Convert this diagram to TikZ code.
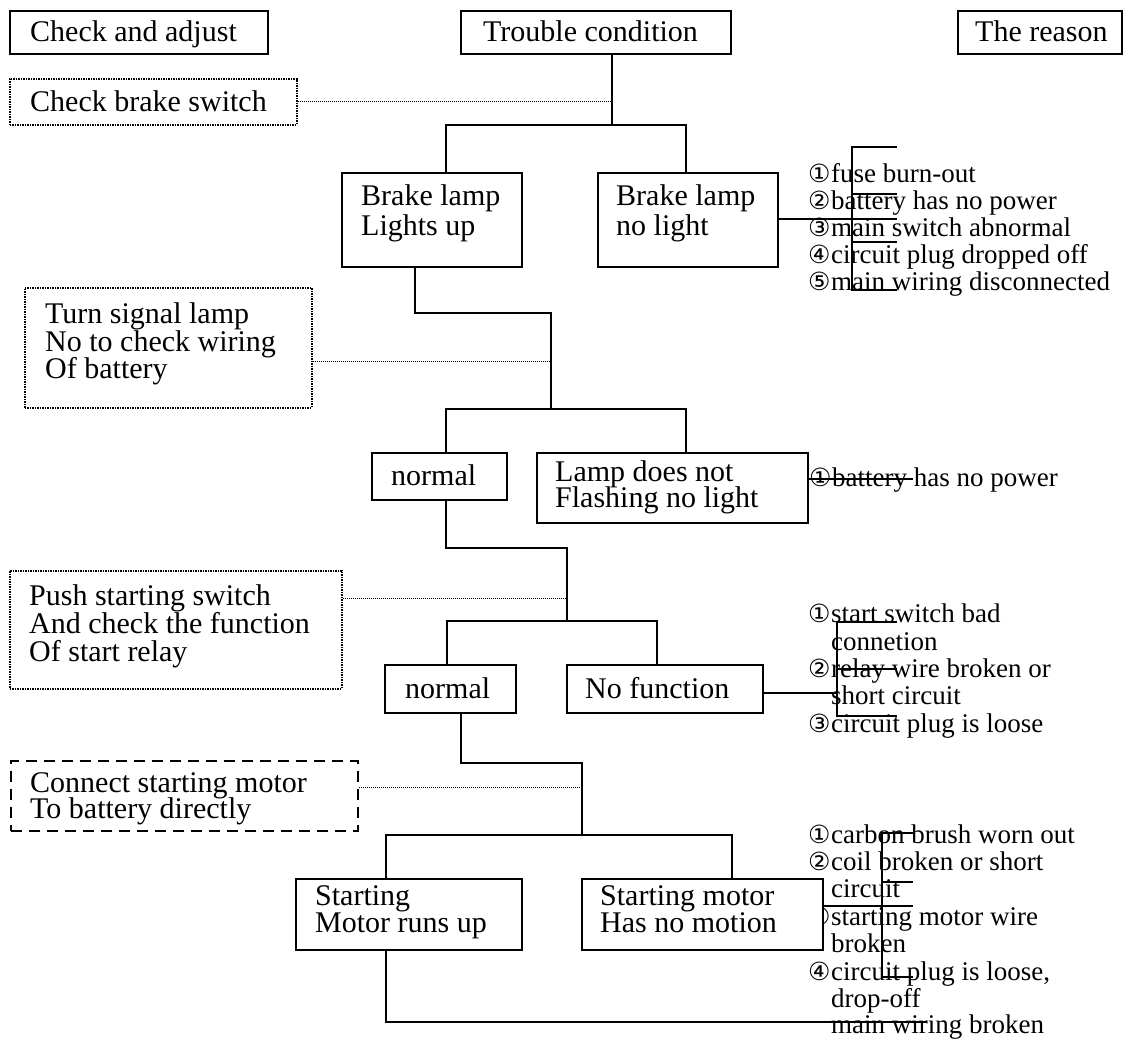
\documentclass[tikz,border=0pt]{standalone}
\usepackage{fontspec}
\setmainfont{Liberation Serif}
\newfontfamily\circfont{DejaVu Sans}
% circled item number with a fixed advance
\newcommand\cnum[1]{\makebox[23pt][l]{\circfont\fontsize{25}{25}\selectfont #1}}
\begin{document}
\begin{tikzpicture}[x=1pt,y=-1pt,
  bx/.style={draw, line width=1.6pt, fill=white, anchor=north west, inner sep=0pt},
  dotbx/.style={bx, line width=1.6pt, dash pattern=on 1.4pt off 1.1pt},
  dashbx/.style={bx, line width=1.6pt, dash pattern=on 11pt off 7pt},
  tb/.style={anchor=base west, inner sep=0pt, font=\fontsize{30}{30}\selectfont},
  tr/.style={anchor=base west, inner sep=0pt, font=\fontsize{27}{27}\selectfont},
  ln/.style={line width=1.6pt},
  dln/.style={line width=1pt, dash pattern=on 1pt off 1pt},
]
\path[use as bounding box, fill=white] (0,0) rectangle (1133,1044);

% ---------- reasons ----------
\node[tr] (r1a) at (808,182) {\cnum{①}fuse burn-out};
\node[tr] (r1b) at (808,209) {\cnum{②}battery has no power};
\node[tr] (r1c) at (808,236) {\cnum{③}main switch abnormal};
\node[tr] (r1d) at (808,263) {\cnum{④}circuit plug dropped off};
\node[tr] (r1e) at (808,290) {\cnum{⑤}main wiring disconnected};

\node[tr] (r2a) at (809,486) {\cnum{①}battery has no power};

\node[tr] (r3a) at (808,622) {\cnum{①}start switch bad};
\node[tr] (r3b) at (831,650) {connetion};
\node[tr] (r3c) at (808,677) {\cnum{②}relay wire broken or};
\node[tr] (r3d) at (831,704) {short circuit};
\node[tr] (r3e) at (808,732) {\cnum{③}circuit plug is loose};

\node[tr] (r4a) at (808,843) {\cnum{①}carbon brush worn out};
\node[tr] (r4b) at (808,870) {\cnum{②}coil broken or short};
\node[tr] (r4c) at (831,897) {circuit};
\node[tr] (r4d) at (808,925) {\cnum{③}starting motor wire};
\node[tr] (r4e) at (831,952) {broken};
\node[tr] (r4f) at (808,980) {\cnum{④}circuit plug is loose,};
\node[tr] (r4g) at (831,1007) {drop-off};
\node[tr] (r4h) at (831,1033) {main wiring broken};

% ---------- boxes ----------
\node[bx, minimum width=258pt, minimum height=43pt] (hdcheck) at (9,10) {};
\node[bx, minimum width=270pt, minimum height=43pt] (hdtrouble) at (460,10) {};
\node[bx, minimum width=164pt, minimum height=43pt] (hdreason) at (957,10) {};

\node[dotbx, minimum width=287pt, minimum height=46pt] (chkbrake) at (9,78) {};
\node[bx, minimum width=180pt, minimum height=94pt] (lampup) at (341,172) {};
\node[bx, minimum width=180pt, minimum height=94pt] (lampoff) at (597,172) {};

\node[dotbx, minimum width=287pt, minimum height=120pt] (turnsig) at (24,287) {};
\node[bx, minimum width=135pt, minimum height=47pt] (normala) at (371,452) {};
\node[bx, minimum width=271pt, minimum height=70pt] (lampnf) at (536,452) {};

\node[dotbx, minimum width=332pt, minimum height=118pt] (pushsw) at (9,570) {};
\node[bx, minimum width=131pt, minimum height=48pt] (normalb) at (384,664) {};
\node[bx, minimum width=196pt, minimum height=48pt] (nofunc) at (566,664) {};

\node[dashbx, minimum width=347pt, minimum height=70pt] (connmot) at (10,760) {};
\node[bx, minimum width=226pt, minimum height=71pt] (motorup) at (295,878) {};
\node[bx, minimum width=241pt, minimum height=71pt] (nomotion) at (581,878) {};

% ---------- box texts ----------
\node[tb] (thdcheck) at (30,41) {Check and adjust};
\node[tb] (thdtrouble) at (483,41) {Trouble condition};
\node[tb] (thdreason) at (975,41) {The reason};
\node[tb] (tchk) at (30,111) {Check brake switch};
\node[tb] (tup1) at (361,205) {Brake lamp};
\node[tb] (tup2) at (361,235) {Lights up};
\node[tb] (toff1) at (616,205) {Brake lamp};
\node[tb] (toff2) at (616,235) {no light};
\node[tb] (tts1) at (45,323) {Turn signal lamp};
\node[tb] (tts2) at (45,351) {No to check wiring};
\node[tb] (tts3) at (45,378) {Of battery};
\node[tb] (tna) at (391,485) {normal};
\node[tb] (tnf1) at (555,481) {Lamp does not};
\node[tb] (tnf2) at (555,507) {Flashing no light};
\node[tb] (tps1) at (29,605) {Push starting switch};
\node[tb] (tps2) at (29,633) {And check the function};
\node[tb] (tps3) at (29,661) {Of start relay};
\node[tb] (tnb) at (405,698) {normal};
\node[tb] (tnfn) at (585,698) {No function};
\node[tb] (tcm1) at (30,792) {Connect starting motor};
\node[tb] (tcm2) at (30,818) {To battery directly};
\node[tb] (tmu1) at (315,905) {Starting};
\node[tb] (tmu2) at (315,932) {Motor runs up};
\node[tb] (tnm1) at (600,905) {Starting motor};
\node[tb] (tnm2) at (600,932) {Has no motion};

% ---------- flow connectors ----------
\coordinate (j1) at (612,125);
\coordinate (b1l) at (446,125);
\coordinate (b1r) at (686,125);
\draw[ln] (hdtrouble.south -| j1) -- (j1);
\draw[ln] (lampup.north -| b1l) -- (b1l) -- (b1r) -- (lampoff.north -| b1r);
\draw[dln] (chkbrake.east) -- (chkbrake.east -| j1);

\coordinate (k2) at (415,313);
\coordinate (j2) at (551,409);
\coordinate (b2l) at (446,409);
\coordinate (b2r) at (686,409);
\coordinate (d2) at (551,361);
\draw[ln] (lampup.south -| k2) -- (k2) -| (j2);
\draw[ln] (normala.north -| b2l) -- (b2l) -- (b2r) -- (lampnf.north -| b2r);
\draw[dln] (turnsig.east |- d2) -- (d2);

\coordinate (k3) at (446,548);
\coordinate (j3) at (567,621);
\coordinate (b3l) at (447,621);
\coordinate (b3r) at (657,621);
\coordinate (d3) at (567,598);
\draw[ln] (normala.south -| k3) -- (k3) -| (j3);
\draw[ln] (normalb.north -| b3l) -- (b3l) -- (b3r) -- (nofunc.north -| b3r);
\draw[dln] (pushsw.east |- d3) -- (d3);

\coordinate (k4) at (461,763);
\coordinate (j4) at (582,835);
\coordinate (b4l) at (386,835);
\coordinate (b4r) at (732,835);
\coordinate (d4) at (582,787);
\draw[ln] (normalb.south -| k4) -- (k4) -| (j4);
\draw[ln] (motorup.north -| b4l) -- (b4l) -- (b4r) -- (nomotion.north -| b4r);
\draw[dln] (connmot.east |- d4) -- (d4);

\coordinate (k5) at (386,1022);
\coordinate (k5e) at (927,1022);
\draw[ln] (motorup.south -| k5) -- (k5) -- (k5e);

% ---------- reason brackets ----------
\coordinate (q1c) at (897,219);
\coordinate (q1t) at (897,147);
\coordinate (q1b) at (897,290);
\draw[ln] (lampoff.east |- q1c) -- (q1c);
\draw[ln] (q1t) -- ++(-45,0) -- ++(0,143) -- (q1b);
\draw[ln] (852,194) -- (897,194);
\draw[ln] (852,242) -- (897,242);

\coordinate (q2c) at (913,479);
\draw[ln] (lampnf.east |- q2c) -- (q2c);

\coordinate (q3c) at (837,693);
\coordinate (q3t) at (897,622);
\coordinate (q3b) at (897,716);
\draw[ln] (nofunc.east |- q3c) -- (q3c);
\draw[ln] (q3t) -- ++(-60,0) -- ++(0,94) -- (q3b);
\draw[ln] (837,669) -- (897,669);

\coordinate (q4c) at (913,906);
\coordinate (q4t) at (913,833);
\coordinate (q4b) at (913,977);
\draw[ln] (nomotion.east |- q4c) -- (q4c);
\draw[ln] (q4t) -- ++(-31,0) -- ++(0,144) -- (q4b);
\draw[ln] (882,882) -- (913,882);
\end{tikzpicture}
\end{document}
